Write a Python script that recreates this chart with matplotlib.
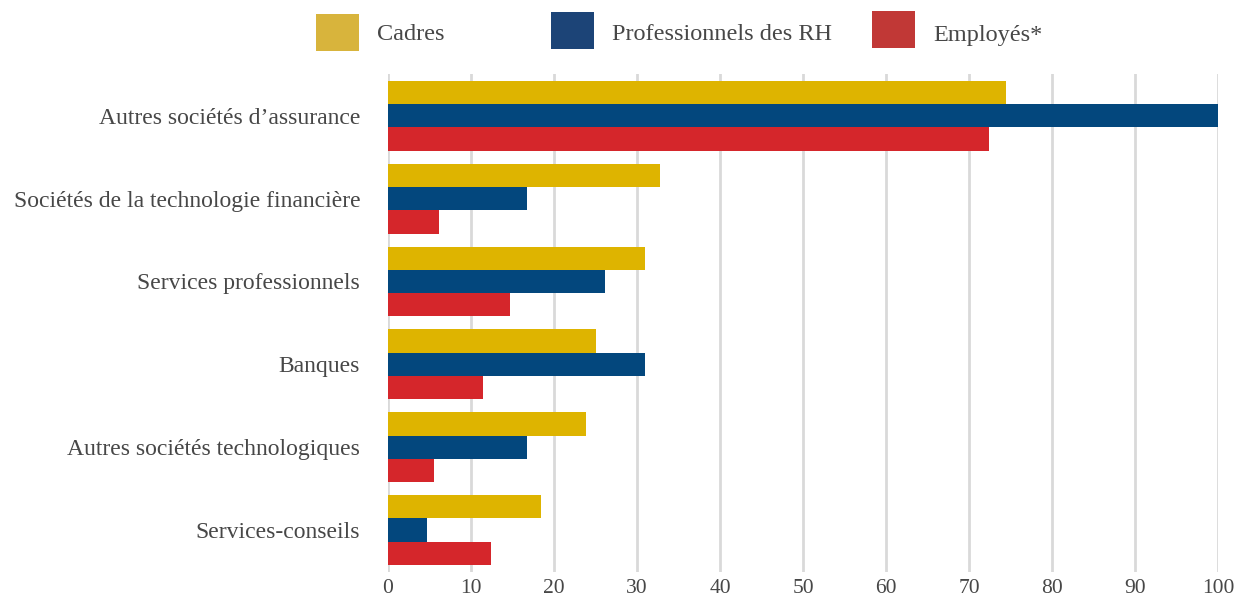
import matplotlib
matplotlib.use("Agg")
import matplotlib.pyplot as plt
from matplotlib.patches import Rectangle
import numpy as np

categories = [
    "Autres sociétés d’assurance",
    "Sociétés de la technologie financière",
    "Services professionnels",
    "Banques",
    "Autres sociétés technologiques",
    "Services-conseils",
]
series_names = ["Cadres", "Professionnels des RH", "Employés*"]
cadres = [74.4, 32.8, 30.9, 25.1, 23.8, 18.4]
pro_rh = [100.0, 16.7, 26.1, 30.9, 16.7, 4.7]
employes = [72.4, 6.1, 14.7, 11.4, 5.5, 12.4]
x_ticks = [0, 10, 20, 30, 40, 50, 60, 70, 80, 90, 100]

bar_colors = ["#DEB400", "#03477D", "#D5262B"]
legend_colors = ["#D8B43C", "#1C4477", "#C13836"]
text_color = "#474747"
font = ["Liberation Serif", "DejaVu Serif"]

plt.rcParams["font.family"] = font

W, H = 1240, 603
fig = plt.figure(figsize=(W / 100, H / 100), dpi=100)
ax = fig.add_axes([388 / W, 1 - 572 / H, (1218.3 - 388) / W, (572 - 74) / H])

y = np.arange(len(categories))
bh = 0.281
for i, (vals, col) in enumerate(zip([cadres, pro_rh, employes], bar_colors)):
    ax.barh(y + (i - 1) * bh, vals, height=bh, color=col, linewidth=0, zorder=3)

ax.set_xlim(0, 100)
ax.set_ylim(5.505, -0.503)
ax.set_xticks(x_ticks)
ax.set_xticklabels([str(t) for t in x_ticks])
ax.set_yticks(y)
ax.set_yticklabels(categories)
ax.tick_params(axis="x", length=0, pad=5, labelsize=15.5, labelcolor=text_color)
ax.tick_params(axis="y", length=0, pad=20, labelsize=17, labelcolor=text_color)
ax.grid(axis="x", color="#D9D9D9", linewidth=2, zorder=0)
ax.grid(axis="y", visible=False)
for s in ax.spines.values():
    s.set_visible(False)

# legend row across the top
legend_boxes = [(316, 14), (551, 12), (872, 11)]
legend_text_x = [377, 612, 933]
for name, col, (px, py), tx in zip(series_names, legend_colors, legend_boxes, legend_text_x):
    fig.add_artist(Rectangle((px / W, 1 - (py + 37) / H), 43 / W, 37 / H,
                             transform=fig.transFigure, color=col, linewidth=0))
    fig.text(tx / W, 1 - 40.5 / H, name, fontsize=17.5, color=text_color,
             ha="left", va="baseline")

fig.savefig("out.png", dpi=100)
